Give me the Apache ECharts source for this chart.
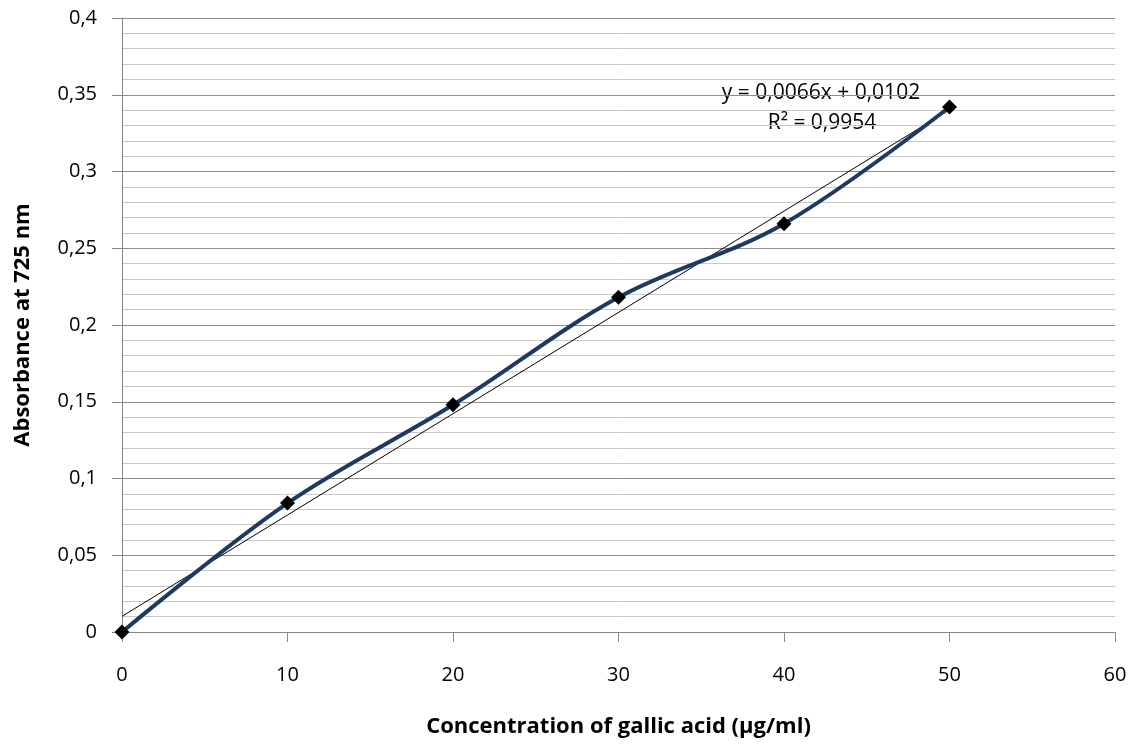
<!DOCTYPE html>
<html><head><meta charset="utf-8">
<script src="https://cdn.jsdelivr.net/npm/echarts@6/dist/echarts.min.js"></script>
<style>html,body{margin:0;padding:0;background:#fff}#c{width:1142px;height:744px}</style>
</head><body><div id="c"></div>
<script>
var concentrations = [0, 10, 20, 30, 40, 50];
var absorbance = [0, 0.084, 0.148, 0.218, 0.266, 0.342];
var trendSlope = 0.0066, trendIntercept = 0.0102;
var trendX = [0, 50];
var equationText = 'y = 0,0066x + 0,0102';
var r2Text = 'R\u00b2 = 0,9954';
var xTitle = 'Concentration of gallic acid (\u00b5g/ml)';
var yTitle = 'Absorbance at 725 nm';

var font = '"Open Sans", sans-serif';
var chart = echarts.init(document.getElementById('c'));
var pts = concentrations.map(function(x,i){return [x, absorbance[i]];});
var trend = trendX.map(function(x){return [x, trendSlope*x + trendIntercept];});
function fmt(v){return String(+v.toFixed(2)).replace('.', ',');}
chart.setOption({
  animation:false,
  grid:{left:122, right:27, top:18, bottom:112, containLabel:false, outerBoundsMode:'none'},
  xAxis:{type:'value', min:0, max:60, interval:10,
    name:xTitle, nameLocation:'middle', nameGap:84,
    nameTextStyle:{fontFamily:font, fontSize:22, fontWeight:'bold', color:'#000'},
    axisLine:{show:true, lineStyle:{color:'#888', width:1}},
    axisTick:{show:true, length:10, lineStyle:{color:'#888'}},
    axisLabel:{fontFamily:font, fontSize:20, color:'#000', margin:33},
    splitLine:{show:false}},
  yAxis:{type:'value', min:0, max:0.4, interval:0.05,
    name:yTitle, nameLocation:'middle', nameGap:88,
    nameTextStyle:{fontFamily:font, fontSize:22, fontWeight:'bold', color:'#000'},
    axisLine:{show:true, lineStyle:{color:'#888', width:1}},
    axisTick:{show:true, length:10, lineStyle:{color:'#888'}},
    axisLabel:{fontFamily:font, fontSize:20, color:'#000', margin:25, formatter:fmt},
    splitLine:{show:true, lineStyle:{color:'#8c8c8c', width:1}},
    minorTick:{show:false, splitNumber:5},
    minorSplitLine:{show:true, lineStyle:{color:'#c8c8c8', width:1}}},
  graphic:[
    {type:'text', x:821, y:93, style:{text:equationText, font:'21px '+font, fill:'#000', align:'center', verticalAlign:'middle'}},
    {type:'text', x:822, y:123, style:{text:r2Text, font:'21px '+font, fill:'#000', align:'center', verticalAlign:'middle'}}
  ],
  series:[
    {type:'line', data:trend, showSymbol:false, symbol:'none', lineStyle:{color:'#000', width:1}, z:2, silent:true},
    {type:'line', data:pts, smooth:0.35, symbol:'diamond', symbolSize:15,
     itemStyle:{color:'#000'}, lineStyle:{color:'#1f3a60', width:4}, z:3}
  ]
});
</script></body></html>
